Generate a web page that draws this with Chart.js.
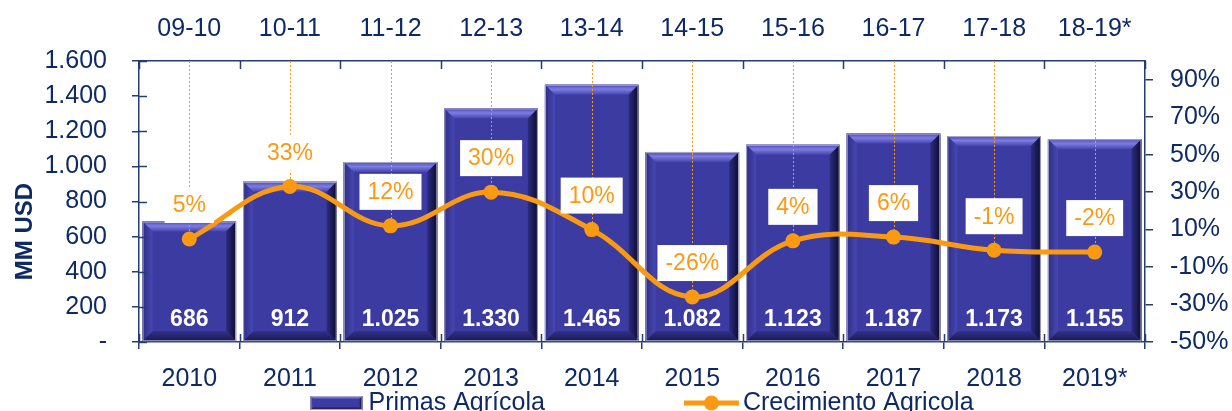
<!DOCTYPE html>
<html lang="es">
  <head>
    <meta charset="UTF-8" />
    <meta name="viewport" content="width=device-width, initial-scale=1.0" />
    <title>Primas Agrícola</title>
    <script src="https://cdn.jsdelivr.net/npm/chart.js"></script>
    <style>
      html,
      body {
        margin: 0;
        padding: 0;
        background: #ffffff;
        overflow: hidden;
      }
      .chart-container {
        position: relative;
        width: 1232px;
        height: 411px;
      }
    </style>
  </head>
  <body>
    <div class="chart-container">
      <canvas id="primasChart"></canvas>
    </div>

    <script>
      // Datos del gráfico
      const anios = ["2010", "2011", "2012", "2013", "2014", "2015", "2016", "2017", "2018", "2019*"];
      const temporadas = ["09-10", "10-11", "11-12", "12-13", "13-14", "14-15", "15-16", "16-17", "17-18", "18-19*"];
      const primas = [686, 912, 1025, 1330, 1465, 1082, 1123, 1187, 1173, 1155]; // MM USD
      const crecimiento = [5, 33, 12, 30, 10, -26, 4, 6, -1, -2]; // %
      const ticksPrimas = [0, 200, 400, 600, 800, 1000, 1200, 1400, 1600];
      const ticksCrecimiento = [-50, -30, -10, 10, 30, 50, 70, 90];

      // Estilos
      const AZUL_TEXTO = "#0E2A66";
      const AZUL_EJE = "#243D72";
      const AZUL_BARRA = "#3B3BA1";
      const NARANJA = "#FA9A12";
      const FUENTE = "'Liberation Sans', Arial, sans-serif";

      function formatoMiles(v) {
        if (v === 0) return "-";
        return String(v).replace(/\B(?=(\d{3})+(?!\d))/g, ".");
      }

      function poligono(ctx, pts, fill) {
        ctx.beginPath();
        ctx.moveTo(pts[0][0], pts[0][1]);
        for (let i = 1; i < pts.length; i++) ctx.lineTo(pts[i][0], pts[i][1]);
        ctx.closePath();
        ctx.fillStyle = fill;
        ctx.fill();
      }

      // Barra con efecto biselado
      function dibujarBisel(ctx, x0, y0, x1, y1, b) {
        ctx.fillStyle = AZUL_BARRA;
        ctx.fillRect(x0, y0, x1 - x0, y1 - y0);

        let g = ctx.createLinearGradient(0, y0, 0, y0 + b);
        g.addColorStop(0, "#4C4CB8");
        g.addColorStop(0.45, "#7C7CE2");
        g.addColorStop(1, "#4545AE");
        poligono(ctx, [[x0, y0], [x1, y0], [x1 - b, y0 + b], [x0 + b, y0 + b]], g);

        g = ctx.createLinearGradient(x0, 0, x0 + b, 0);
        g.addColorStop(0, "#2E2E86");
        g.addColorStop(1, "#4747B2");
        poligono(ctx, [[x0, y0], [x0 + b, y0 + b], [x0 + b, y1 - b], [x0, y1]], g);

        g = ctx.createLinearGradient(x1 - b, 0, x1, 0);
        g.addColorStop(0, "#2C2C84");
        g.addColorStop(1, "#0C0C2C");
        poligono(ctx, [[x1, y0], [x1, y1], [x1 - b, y1 - b], [x1 - b, y0 + b]], g);

        g = ctx.createLinearGradient(0, y1 - b, 0, y1);
        g.addColorStop(0, "#303088");
        g.addColorStop(1, "#1A1A50");
        poligono(ctx, [[x0, y1], [x0 + b, y1 - b], [x1 - b, y1 - b], [x1, y1]], g);

        ctx.strokeStyle = "#A8A8C6";
        ctx.lineWidth = 1;
        ctx.strokeRect(x0 + 0.5, y0 + 0.5, x1 - x0 - 1, y1 - y0 - 1);
      }

      const decoraciones = {
        id: "decoraciones",
        afterDatasetDraw(chart, args) {
          if (args.index !== 0) return;
          const ctx = chart.ctx;
          const area = chart.chartArea;
          ctx.save();
          // bisel sobre cada barra
          chart.getDatasetMeta(0).data.forEach((bar) => {
            const x0 = bar.x - bar.width / 2;
            const x1 = bar.x + bar.width / 2;
            dibujarBisel(ctx, x0, bar.y, x1, bar.base, 10);
          });
          // líneas guía punteadas hacia cada punto
          ctx.strokeStyle = NARANJA;
          ctx.lineWidth = 1;
          ctx.setLineDash([2, 2]);
          chart.getDatasetMeta(1).data.forEach((pt) => {
            ctx.beginPath();
            ctx.moveTo(Math.round(pt.x) + 0.5, area.top);
            ctx.lineTo(Math.round(pt.x) + 0.5, pt.y);
            ctx.stroke();
          });
          ctx.restore();
        },
        afterDatasetsDraw(chart) {
          const ctx = chart.ctx;
          ctx.save();
          // valores dentro de las barras
          ctx.fillStyle = "#FFFFFF";
          ctx.font = "bold 23px " + FUENTE;
          ctx.textAlign = "center";
          ctx.textBaseline = "middle";
          chart.getDatasetMeta(0).data.forEach((bar, i) => {
            ctx.fillText(formatoMiles(primas[i]), bar.x, bar.base - 22);
          });
          // etiquetas de crecimiento con caja blanca
          ctx.font = "23px " + FUENTE;
          chart.getDatasetMeta(1).data.forEach((pt, i) => {
            const txt = crecimiento[i] + "%";
            const w = ctx.measureText(txt).width + 16;
            const cy = pt.y - 34;
            ctx.fillStyle = "#FFFFFF";
            ctx.fillRect(pt.x - w / 2, cy - 18, w, 36);
            ctx.fillStyle = NARANJA;
            ctx.fillText(txt, pt.x, cy + 1);
          });
          ctx.restore();
        },
        afterDraw(chart) {
          const ctx = chart.ctx;
          const area = chart.chartArea;
          const sx = chart.scales.x;
          const sy = chart.scales.y;
          ctx.save();
          ctx.strokeStyle = AZUL_EJE;
          ctx.lineWidth = 1.5;
          // marcas interiores de los ejes
          const medio = (sx.getPixelForValue(1) - sx.getPixelForValue(0)) / 2;
          for (let i = 0; i <= anios.length; i++) {
            const x = Math.round(sx.getPixelForValue(i) - medio) + 0.5;
            ctx.beginPath();
            ctx.moveTo(x, area.bottom - 8);
            ctx.lineTo(x, area.bottom);
            ctx.moveTo(x, area.top);
            ctx.lineTo(x, area.top + 8);
            ctx.stroke();
          }
          ticksPrimas.forEach((v) => {
            const y = Math.round(sy.getPixelForValue(v)) + 0.5;
            ctx.beginPath();
            ctx.moveTo(area.left, y);
            ctx.lineTo(area.left + 8, y);
            ctx.stroke();
          });

          // título del eje izquierdo
          ctx.fillStyle = AZUL_TEXTO;
          ctx.font = "bold 24px " + FUENTE;
          ctx.textAlign = "center";
          ctx.textBaseline = "middle";
          ctx.translate(25, (area.top + area.bottom) / 2 + 30);
          ctx.rotate(-Math.PI / 2);
          ctx.fillText("MM USD", 0, 0);
          ctx.restore();

          // leyenda
          ctx.save();
          ctx.font = "25px " + FUENTE;
          ctx.textBaseline = "middle";
          ctx.textAlign = "left";
          const n1 = chart.data.datasets[0].label;
          const n2 = chart.data.datasets[1].label;
          const w1 = ctx.measureText(n1).width;
          const w2 = ctx.measureText(n2).width;
          const total = 52 + 6 + w1 + 139 + 55 + 4 + w2;
          let x = (area.left + area.right) / 2 - total / 2;
          const yl = 403;
          dibujarBisel(ctx, x, yl - 7, x + 52, yl + 7, 3);
          x += 58;
          ctx.fillStyle = AZUL_TEXTO;
          ctx.fillText(n1, x, yl);
          x += w1 + 139;
          ctx.strokeStyle = NARANJA;
          ctx.lineWidth = 5;
          ctx.beginPath();
          ctx.moveTo(x, yl);
          ctx.lineTo(x + 55, yl);
          ctx.stroke();
          ctx.fillStyle = NARANJA;
          ctx.beginPath();
          ctx.arc(x + 27.5, yl, 7.5, 0, Math.PI * 2);
          ctx.fill();
          x += 59;
          ctx.fillStyle = AZUL_TEXTO;
          ctx.fillText(n2, x, yl);
          ctx.restore();
        },
      };

      const ejeTicks = { color: AZUL_TEXTO, font: { size: 25, family: FUENTE } };

      new Chart(document.getElementById("primasChart"), {
        type: "bar",
        data: {
          labels: anios,
          datasets: [
            {
              type: "bar",
              label: "Primas Agrícola",
              data: primas,
              yAxisID: "y",
              backgroundColor: AZUL_BARRA,
              barPercentage: 0.93,
              categoryPercentage: 1,
              order: 2,
            },
            {
              type: "line",
              label: "Crecimiento Agricola",
              data: crecimiento,
              yAxisID: "y2",
              borderColor: NARANJA,
              backgroundColor: NARANJA,
              borderWidth: 5,
              pointRadius: 7.5,
              pointHoverRadius: 7.5,
              pointBorderWidth: 0,
              tension: 0.4,
              order: 1,
            },
          ],
        },
        options: {
          responsive: true,
          maintainAspectRatio: false,
          animation: false,
          layout: { padding: { top: 0, left: 0, right: 0, bottom: 23 } },
          plugins: {
            legend: { display: false },
            tooltip: { enabled: false },
          },
          scales: {
            x: {
              position: "bottom",
              offset: true,
              grid: { offset: true, drawOnChartArea: false, tickLength: 7, color: AZUL_EJE, lineWidth: 1.5 },
              border: { color: AZUL_EJE, width: 1.5 },
              ticks: { ...ejeTicks, padding: 15, maxRotation: 0, autoSkip: false },
              afterFit(s) {
                s.height = 46;
              },
            },
            x2: {
              type: "category",
              labels: temporadas,
              position: "top",
              offset: true,
              grid: { display: false },
              border: { display: true, color: AZUL_EJE, width: 1.5 },
              ticks: { ...ejeTicks, padding: 9, maxRotation: 0, autoSkip: false },
              afterFit(s) {
                s.height = 61;
              },
            },
            y: {
              position: "left",
              min: 0,
              max: 1600,
              afterBuildTicks(s) {
                s.ticks = ticksPrimas.map((v) => ({ value: v }));
              },
              grid: { drawOnChartArea: false, tickLength: 7, color: AZUL_EJE, lineWidth: 1.5 },
              border: { color: AZUL_EJE, width: 1.5 },
              ticks: { ...ejeTicks, padding: 25, callback: (v) => formatoMiles(v) },
              afterFit(s) {
                s.width = 139;
              },
            },
            y2: {
              position: "right",
              min: -50,
              max: 100,
              afterBuildTicks(s) {
                s.ticks = ticksCrecimiento.map((v) => ({ value: v }));
              },
              grid: { drawOnChartArea: false, tickLength: 8, color: AZUL_EJE, lineWidth: 1.5 },
              border: { color: AZUL_EJE, width: 1.5 },
              ticks: { ...ejeTicks, padding: 17, callback: (v) => v + "%" },
              afterFit(s) {
                s.width = 87;
              },
            },
          },
        },
        plugins: [decoraciones],
      });
    </script>
  </body>
</html>
